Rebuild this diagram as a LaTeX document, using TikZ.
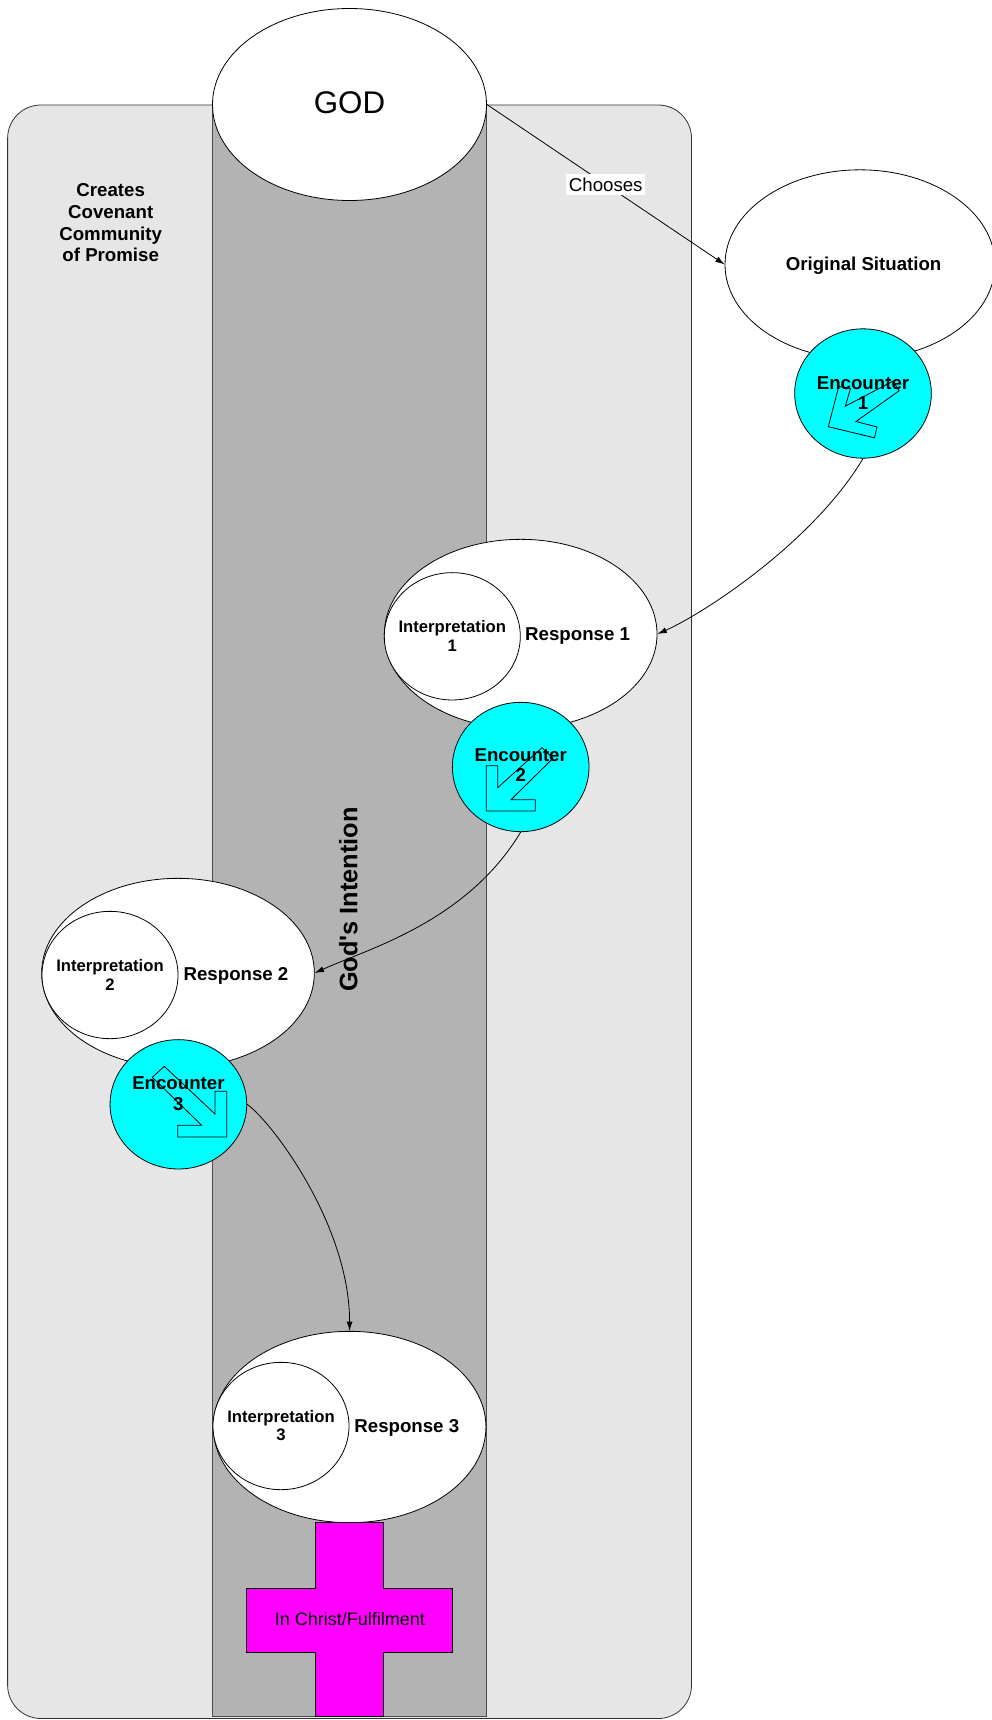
\documentclass[tikz,border=0pt]{standalone}
\usepackage{fontspec}
\setmainfont{Liberation Sans}
\newfontfamily\arialplain{Liberation Sans}
\usetikzlibrary{shapes.geometric,arrows.meta}
\definecolor{bglight}{HTML}{E6E6E6}
\definecolor{coldark}{HTML}{B3B3B3}
\definecolor{enccyan}{HTML}{00FFFF}
\definecolor{crossmag}{HTML}{FF00FF}
\begin{document}
\begin{tikzpicture}[x=0.75pt,y=-0.75pt,
  outl/.style={draw=black,line width=0.6pt},
  bigell/.style={ellipse,outl,fill=white,minimum width=204.5pt,minimum height=142pt,inner sep=0pt},
  interp/.style={ellipse,outl,fill=white,minimum width=102pt,minimum height=95.5pt,inner sep=0pt},
  interptxt/.style={inner sep=0pt,align=center,font=\fontsize{12.5}{14}\selectfont\bfseries},
  enc/.style={ellipse,outl,fill=enccyan,minimum width=102.5pt,minimum height=97pt,inner sep=0pt},
  lbl/.style={font=\fontsize{14}{15}\selectfont\bfseries,inner sep=0pt,align=center},
  conn/.style={draw=black,line width=0.6pt,-{Latex[length=7pt,width=4.5pt]}},
  bentarrow/.style={draw=black,line width=0.6pt,line join=miter},
]
\path[use as bounding box] (0,0) rectangle (992,1720);
% background panels
\draw[fill=bglight,draw=black!80,line width=0.6pt,rounded corners=25pt] (7.6,105) rectangle (691.5,1718.5);
\draw[fill=coldark,draw=black!70,line width=0.6pt] (212.6,104.5) rectangle (486.5,1716.8);
% GOD
\node[bigell,minimum width=205.5pt,minimum height=144pt] (god) at (349.5,104.5) {};
\node[font=\fontsize{23.5}{26}\selectfont,inner sep=0pt] (godtxt) at (349.5,102.5) {GOD};
% Creates text
\node[lbl,font=\fontsize{14}{16.4}\selectfont\bfseries] (creates) at (110.7,222.7) {Creates\\Covenant\\Community\\of Promise};
% God's Intention
\node[font=\arialplain\fontsize{19}{21}\selectfont\bfseries,rotate=90,inner sep=0pt] (intent) at (348.3,899.5) {God's Intention};
% Original situation
\node[bigell,minimum width=202.5pt] (orig) at (860,264.5) {};
\node[lbl] (origtxt) at (863.6,266) {Original Situation};
\node[enc] (enc1) at (863,393.5) {};
\node[lbl] (enc1txt) at (863,393) {Encounter\\1};
\draw[bentarrow] (828.3,426.7) -- (838.7,386.5) -- (850.5,388.5) -- (845.3,406.2) -- (893.2,381.1) -- (899.1,390.8) -- (856,421.5) -- (877,427) -- (874.5,437.8) -- cycle;
% Response 1
\node[bigell] (resp1) at (520.7,634) {};
\node[interp] (interp1) at (452.3,636.3) {};
\node[interptxt] (interp1txt) at (452.3,636) {Interpretation\\1};
\node[lbl] (resp1txt) at (577.6,636.5) {Response 1};
\node[enc] (enc2) at (520.7,767) {};
\node[lbl] (enc2txt) at (520.7,765) {Encounter\\2};
\draw[bentarrow] (486.3,811) -- (486.3,765.7) -- (497.7,765.7) -- (497.7,787.7) -- (542,747.7) -- (553,758.3) -- (511,799.7) -- (535.3,799.7) -- (535.3,811) -- cycle;
% Response 2
\node[bigell] (resp2) at (178,973) {};
\node[interp] (interp2) at (110,975) {};
\node[interptxt] (interp2txt) at (110,975) {Interpretation\\2};
\node[lbl] (resp2txt) at (236,975.5) {Response 2};
\node[enc] (enc3) at (178.4,1104.3) {};
\node[lbl,font=\fontsize{14}{15.8}\selectfont\bfseries] (enc3txt) at (178.4,1093.5) {Encounter\\3};
\draw[bentarrow] (226.7,1137) -- (226.7,1091.3) -- (215,1091.3) -- (215,1114) -- (164.3,1066.3) -- (152.3,1077.3) -- (201.7,1125.3) -- (177.7,1125.3) -- (177.7,1137) -- cycle;
% Response 3
\node[bigell,minimum height=143.5pt] (resp3) at (349.6,1427) {};
\node[interp] (interp3) at (281,1426) {};
\node[interptxt] (interp3txt) at (281,1425.5) {Interpretation\\3};
\node[lbl] (resp3txt) at (406.8,1427.5) {Response 3};
% Cross
\draw[outl,fill=crossmag] (315.7,1522.6) -- (383.4,1522.6) -- (383.4,1588.4) -- (452.4,1588.4) -- (452.4,1652) -- (383.4,1652) -- (383.4,1716.8) -- (315.7,1716.8) -- (315.7,1652) -- (246.7,1652) -- (246.7,1588.4) -- (315.7,1588.4) -- cycle;
\node[font=\fontsize{13.5}{15}\selectfont,inner sep=0pt] (christ) at (350,1619) {In Christ/Fulfilment};
% connectors
\draw[conn] (god.east) -- node[fill=white,inner xsep=2pt,inner ysep=3pt,font=\fontsize{14}{15}\selectfont] (chooses) {Chooses} (orig.west);
\draw[conn] (enc1.south) .. controls (813,542.4) and (704,613.3) .. (resp1.east);
\draw[conn] (enc2.south) .. controls (466.6,921.9) and (368.7,948.5) .. (resp2.east);
\draw[conn] (enc3.east) .. controls (272,1122) and (349.6,1225) .. (resp3.north);
\end{tikzpicture}
\end{document}
